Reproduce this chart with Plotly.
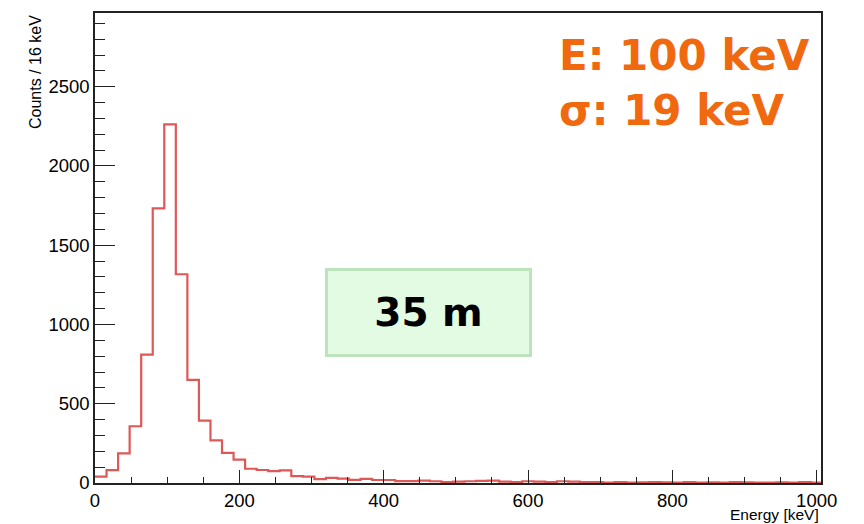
import plotly.graph_objects as go

# Histogram data: counts per 16 keV bin, starting at 0 keV
bin_width = 16
counts = [40, 81, 187, 358, 810, 1733, 2262, 1317, 650, 394,
          269, 190, 148, 90, 82, 75, 80, 44, 40, 24,
          32, 27, 20, 26, 19, 19, 12, 12, 15, 11,
          6, 9, 11, 13, 15, 9, 6, 11, 9, 6,
          11, 9, 6, 5, 3, 5, 3, 4, 6, 4,
          3, 5, 2, 4, 3, 5, 4, 3, 2, 4,
          3, 5, 3]
x_ticks = [0, 200, 400, 600, 800, 1000]
y_ticks = [0, 500, 1000, 1500, 2000, 2500]

edges = [i * bin_width for i in range(len(counts) + 1)]
xs = edges
ys = counts + [counts[-1]]

fig = go.Figure()
fig.add_trace(go.Scatter(
    x=xs, y=ys, mode="lines", line_shape="hv",
    line=dict(color="rgb(222,88,88)", width=2.2),
    hoverinfo="skip", showlegend=False,
))

tickfont = dict(family="Liberation Sans, Arial, sans-serif", size=18.5, color="black")

fig.update_layout(
    width=864, height=524,
    margin=dict(l=95, r=43, t=13, b=41, autoexpand=False),
    paper_bgcolor="white", plot_bgcolor="white",
    xaxis=dict(
        range=[0, 1006], tickvals=x_ticks, ticktext=[str(v) for v in x_ticks],
        ticks="inside", ticklen=13, tickwidth=1.3, tickcolor="#222",
        minor=dict(ticks="inside", ticklen=6, dtick=50, tick0=0, tickwidth=1.1, tickcolor="#222", showgrid=False),
        showgrid=False, zeroline=False, showline=True, linecolor="#222", linewidth=1.5, mirror=True,
        tickfont=tickfont, automargin=False,
    ),
    yaxis=dict(
        range=[0, 2965], tickvals=y_ticks, ticktext=[str(v) for v in y_ticks],
        ticks="inside", ticklen=20, tickwidth=1.3, tickcolor="#222",
        minor=dict(ticks="inside", ticklen=10, dtick=100, tick0=0, tickwidth=1.1, tickcolor="#222", showgrid=False),
        showgrid=False, zeroline=False, showline=True, linecolor="#222", linewidth=1.5, mirror=True,
        tickfont=tickfont, automargin=False,
    ),
)

# Axis titles (ROOT style, aligned to the end of the axes)
fig.add_annotation(
    text="Counts / 16 keV", textangle=-90, xref="paper", yref="paper",
    x=-0.0826, y=1.0, xanchor="center", yanchor="top", showarrow=False,
    font=dict(family="Liberation Sans, Arial, sans-serif", size=16, color="black"),
)
fig.add_annotation(
    text="Energy [keV]", xref="paper", yref="paper",
    x=1.0, y=-0.067, xanchor="right", yanchor="middle", showarrow=False,
    font=dict(family="Liberation Sans, Arial, sans-serif", size=15.5, color="black"),
)

orange = "#F0690F"
fig.add_annotation(
    text="<b>E: 100 keV</b>", xref="paper", yref="paper",
    x=0.6364, y=(483 - 55) / 470, xanchor="left", yanchor="middle", showarrow=False,
    font=dict(family="DejaVu Sans, sans-serif", size=42, color=orange),
)
fig.add_annotation(
    text="<b>σ: 19 keV</b>", xref="paper", yref="paper",
    x=0.6364, y=(483 - 111) / 470, xanchor="left", yanchor="middle", showarrow=False,
    font=dict(family="DejaVu Sans, sans-serif", size=42, color=orange),
)

fig.add_annotation(
    text="<b>35 m</b>", xref="paper", yref="paper",
    x=(428.5 - 95) / 726, y=(483 - 312.5) / 470, xanchor="center", yanchor="middle",
    showarrow=False, width=201, height=83, align="center", valign="middle",
    bgcolor="#E3FBE3", bordercolor="#BDE3BD", borderwidth=3, borderpad=0,
    font=dict(family="DejaVu Sans, sans-serif", size=39, color="black"),
)

fig.write_html(
    "out.html",
    config={"displayModeBar": False},
    post_script="document.body.style.margin='0';document.body.style.overflow='hidden';",
)
